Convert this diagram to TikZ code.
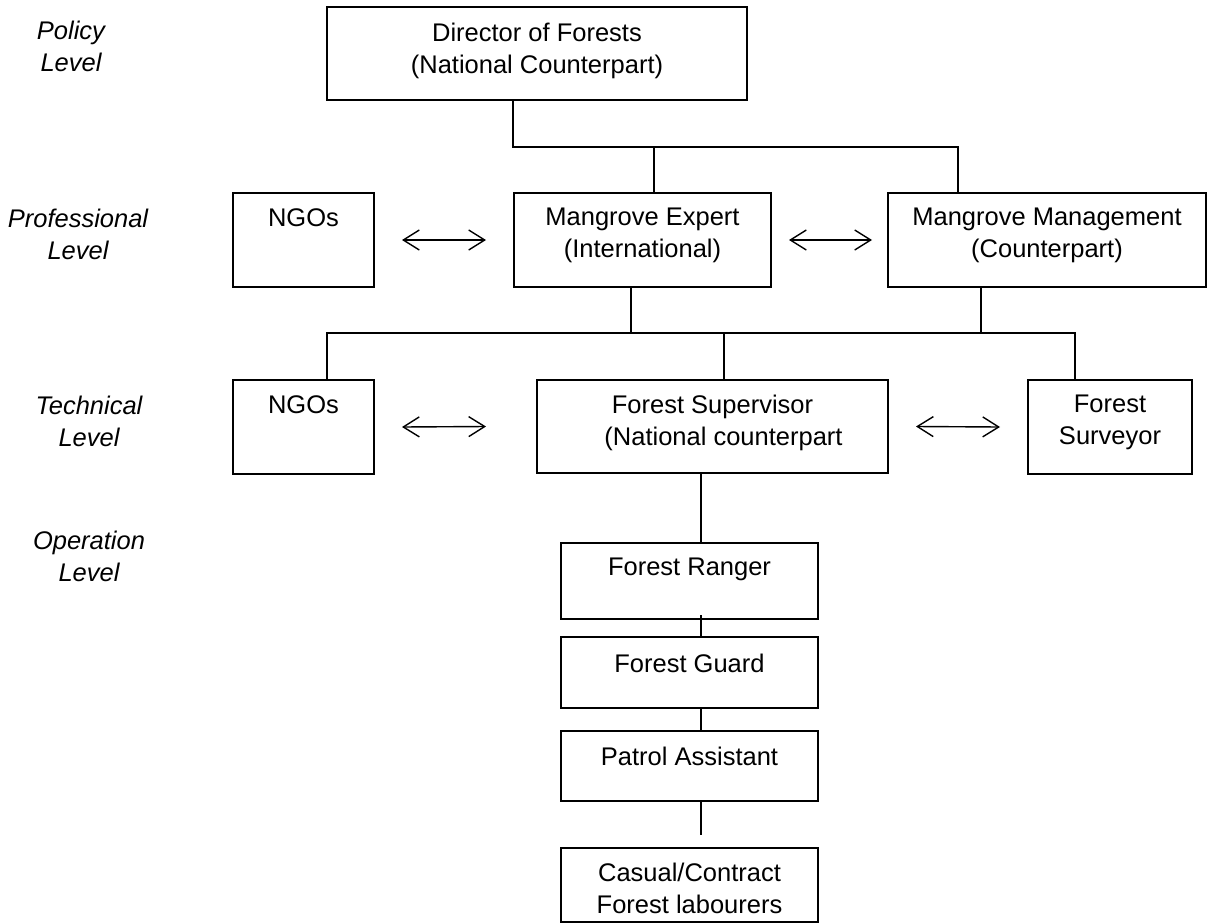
\documentclass[tikz,border=0pt]{standalone}
\usepackage{fontspec}
\setmainfont{Liberation Sans}
\usetikzlibrary{arrows.meta}
\begin{document}
\begin{tikzpicture}[x=1pt,y=-1pt,
  orgbox/.style={draw, line width=2pt, inner sep=0pt, rectangle},
  boxtext/.style={anchor=north, inner sep=0pt, align=center, font={\fontsize{25.5pt}{32pt}\selectfont}},
  leveltext/.style={inner sep=0pt, align=center, font={\fontsize{25.5pt}{32pt}\selectfont\itshape}},
  link/.style={line width=1.5pt},
  dblarrow/.style={line width=1.4pt, {Straight Barb[length=16pt,width=20pt]}-{Straight Barb[length=16pt,width=20pt]}}
]
\useasboundingbox (0,0) rectangle (1208,924);

% level labels
\node[leveltext] (lpol) at (71,46) {Policy\\Level};
\node[leveltext] (lpro) at (78,234) {Professional\\Level};
\node[leveltext] (ltec) at (89,421) {Technical\\Level};
\node[leveltext] (lope) at (89,556) {Operation\\Level};

% boxes
\node[orgbox, minimum width=420pt, minimum height=93pt] (dir) at (537,53.5) {};
\node[orgbox, minimum width=141pt, minimum height=94pt] (pngo) at (303.5,240) {};
\node[orgbox, minimum width=257pt, minimum height=94pt] (expert) at (642.5,240) {};
\node[orgbox, minimum width=318pt, minimum height=94pt] (mgmt) at (1047,240) {};
\node[orgbox, minimum width=141pt, minimum height=94pt] (tngo) at (303.5,427) {};
\node[orgbox, minimum width=351pt, minimum height=93pt] (sup) at (712.5,426.5) {};
\node[orgbox, minimum width=164pt, minimum height=94pt] (surv) at (1110,427) {};
\node[orgbox, minimum width=257pt, minimum height=76pt] (ranger) at (689.5,581) {};
\node[orgbox, minimum width=257pt, minimum height=71pt] (guard) at (689.5,672.5) {};
\node[orgbox, minimum width=257pt, minimum height=70pt] (patrol) at (689.5,766) {};
\node[orgbox, minimum width=257pt, minimum height=74pt] (casual) at (689.5,885) {};

% box texts
\node[boxtext] (dirt) at ([yshift=-17pt]dir.north) {Director of Forests\\(National Counterpart)};
\node[boxtext] (pngot) at ([yshift=-16pt]pngo.north) {NGOs};
\node[boxtext] (expertt) at ([yshift=-16pt]expert.north) {Mangrove Expert\\(International)};
\node[boxtext] (mgmtt) at ([yshift=-16pt]mgmt.north) {Mangrove Management\\(Counterpart)};
\node[boxtext] (tngot) at ([yshift=-16pt]tngo.north) {NGOs};
\node[boxtext] (supt) at ([yshift=-16pt]sup.north) {Forest Supervisor\\\hspace*{22pt}(National counterpart};
\node[boxtext] (survt) at ([yshift=-16pt]surv.north) {Forest\\Surveyor};
\node[boxtext] (rangert) at ([yshift=-16pt]ranger.north) {Forest Ranger};
\node[boxtext] (guardt) at ([yshift=-18pt]guard.north) {Forest Guard};
\node[boxtext] (patrolt) at ([yshift=-17pt]patrol.north) {Patrol Assistant};
\node[boxtext] (casualt) at ([yshift=-16pt]casual.north) {Casual/Contract\\Forest labourers};

% junction coordinates
\coordinate (j1) at (513,147);
\coordinate (tA) at (654,147);
\coordinate (tB) at (958,147);
\coordinate (e1) at (631,333);
\coordinate (m1) at (981,333);
\coordinate (kL) at (327,333);
\coordinate (kM) at (724,333);
\coordinate (kR) at (1075,333);
\coordinate (v) at (701,0);
\coordinate (cend) at (701,835);

% connectors
\draw[link] (j1 |- dir.south) -- (j1) -- (tB) -- (tB |- mgmt.north);
\draw[link] (tA) -- (tA |- expert.north);
\draw[link] (e1 |- expert.south) -- (e1);
\draw[link] (m1 |- mgmt.south) -- (m1);
\draw[link] (kL |- tngo.north) -- (kL) -- (kR) -- (kR |- surv.north);
\draw[link] (kM) -- (kM |- sup.north);
\draw[link] (v |- sup.south) -- (v |- ranger.north);
\draw[link] ([yshift=5pt]v |- ranger.south) -- (v |- guard.north);
\draw[link] (v |- guard.south) -- (v |- patrol.north);
\draw[link] (v |- patrol.south) -- (cend);

% arrows
\draw[dblarrow] ([xshift=27pt]pngo.east) -- ([xshift=-27pt]expert.west);
\draw[dblarrow] ([xshift=17pt]expert.east) -- ([xshift=-15pt]mgmt.west);
\draw[dblarrow] ([xshift=27pt]tngo.east) -- ([xshift=-50pt]sup.west);
\draw[dblarrow] ([xshift=27pt]sup.east) -- ([xshift=-27pt]surv.west);
\end{tikzpicture}
\end{document}
